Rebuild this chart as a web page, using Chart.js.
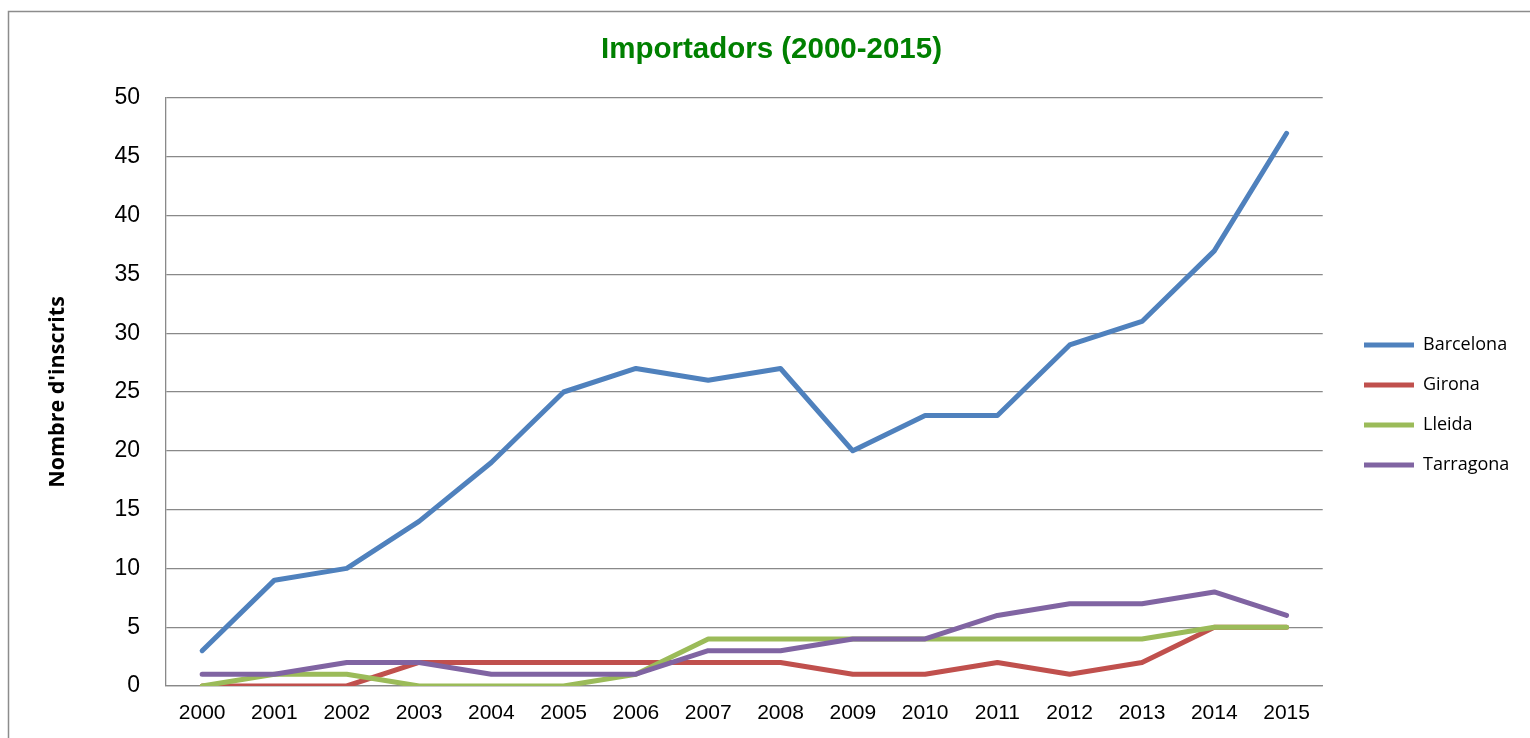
<!DOCTYPE html>
<html><head><meta charset="utf-8">
<script src="https://cdn.jsdelivr.net/npm/chart.js@4"></script>
<style>html,body{margin:0;padding:0;background:#fff;overflow:hidden;}</style>
</head><body>
<canvas id="c" width="1530" height="738"></canvas>
<script>
const years = ['2000','2001','2002','2003','2004','2005','2006','2007','2008','2009','2010','2011','2012','2013','2014','2015'];
const barcelona = [3, 9, 10, 14, 19, 25, 27, 26, 27, 20, 23, 23, 29, 31, 37, 47];
const girona    = [0, 0, 0, 2, 2, 2, 2, 2, 2, 1, 1, 2, 1, 2, 5, 5];
const lleida    = [0, 1, 1, 0, 0, 0, 1, 4, 4, 4, 4, 4, 4, 4, 5, 5];
const tarragona = [1, 1, 2, 2, 1, 1, 1, 3, 3, 4, 4, 6, 7, 7, 8, 6];
const seriesNames = ['Barcelona', 'Girona', 'Lleida', 'Tarragona'];
const seriesColors = ['#4F81BD', '#C0504D', '#9BBB59', '#8064A2'];
const yTicks = [0, 5, 10, 15, 20, 25, 30, 35, 40, 45, 50];

const GRID = '#898989';

const frame = {
  id: 'frame',
  beforeDraw(chart) {
    const c = chart.ctx;
    c.save();
    c.strokeStyle = '#8c8c8c';
    c.lineWidth = 1.5;
    c.strokeRect(8.5, 11.5, 1600, 1000);
    c.restore();
  }
};
const legendShift = {
  id: 'legendShift',
  afterLayout(chart) {
    const l = chart.legend;
    const dx = 1342 - l.left;
    l.left += dx; l.right += dx;
    l.top += 36; l.bottom += 36;
  }
};

const allSeries = [barcelona, girona, lleida, tarragona];
const datasets = allSeries.map((d, i) => ({
  label: seriesNames[i],
  data: d,
  borderColor: seriesColors[i],
  backgroundColor: seriesColors[i],
  borderWidth: 5,
  pointRadius: 0,
  pointHoverRadius: 0,
  tension: 0,
  borderCapStyle: 'round',
  borderJoinStyle: 'round',
  order: 4 - i
}));

new Chart(document.getElementById('c'), {
  type: 'line',
  data: { labels: years, datasets },
  plugins: [frame, legendShift],
  options: {
    responsive: false,
    animation: false,
    devicePixelRatio: 1,
    layout: { padding: { left: 43, right: 30, top: 0, bottom: 0 } },
    plugins: {
      title: {
        display: true,
        text: 'Importadors (2000-2015)',
        color: '#008000',
        font: { family: 'Liberation Sans', weight: 'bold', size: 29.5 },
        padding: { top: 32, bottom: 30.6 }
      },
      legend: {
        position: 'right',
        labels: {
          usePointStyle: true,
          pointStyle: 'line',
          pointStyleWidth: 50,
          padding: 22,
          color: '#000',
          font: { family: 'Open Sans', size: 18 },
          sort: (a, b) => a.datasetIndex - b.datasetIndex
        }
      },
      tooltip: { enabled: false }
    },
    scales: {
      x: {
        type: 'category',
        offset: true,
        grid: { display: false, drawTicks: false },
        border: { display: true, color: GRID, width: 1.3 },
        ticks: {
          color: '#000',
          padding: 15,
          maxRotation: 0,
          autoSkip: false,
          font: { family: 'Liberation Sans', size: 21 }
        },
        afterFit(s) { s.height = 52; }
      },
      y: {
        min: 0,
        max: 50,
        afterBuildTicks(s) { s.ticks = yTicks.map(v => ({ value: v })); },
        grid: { color: GRID, lineWidth: 1.3, drawTicks: false },
        border: { display: true, color: GRID, width: 1.3 },
        ticks: {
          color: '#000',
          padding: 26,
          font: { family: 'Liberation Sans', size: 23 }
        },
        title: {
          display: true,
          text: "Nombre d'inscrits",
          color: '#000',
          font: { family: 'Open Sans', weight: 'bold', size: 21.5 },
          padding: { top: 2, bottom: 0 }
        },
        afterFit(s) { s.width = 123; }
      }
    }
  }
});
</script>
</body></html>
